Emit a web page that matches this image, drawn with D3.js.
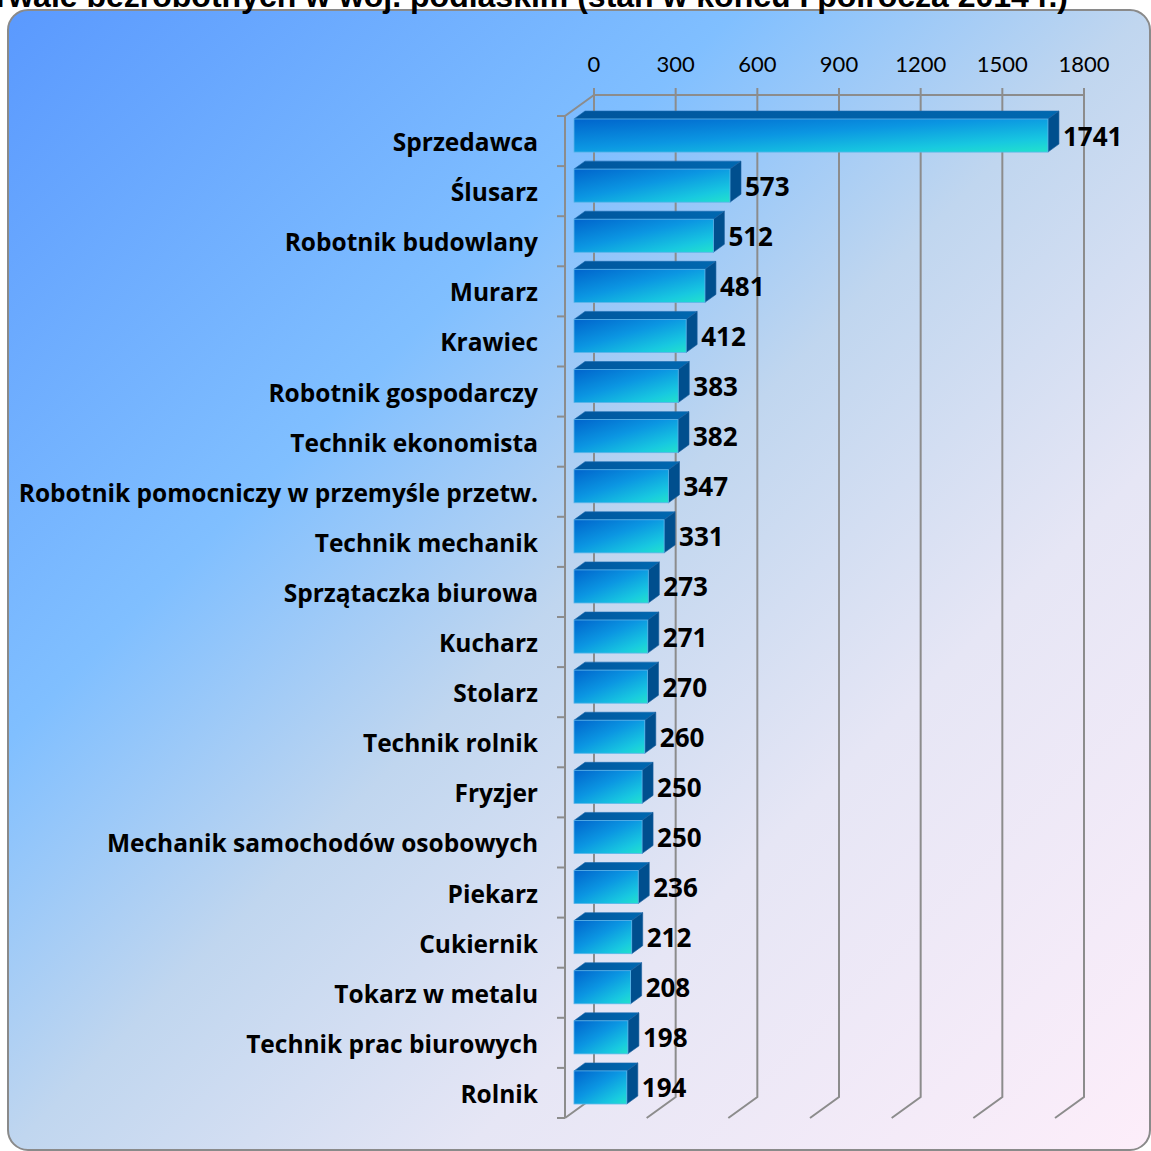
<!DOCTYPE html>
<html>
<head>
<meta charset="utf-8">
<script src="https://cdnjs.cloudflare.com/ajax/libs/d3/7.8.5/d3.min.js"></script>
<style>
  html, body { margin: 0; padding: 0; background: #ffffff; }
  svg { display: block; }
</style>
</head>
<body>
<svg id="chart" width="1151" height="1151"></svg>
<script>
const categories = [
  "Sprzedawca", "Ślusarz", "Robotnik budowlany", "Murarz", "Krawiec",
  "Robotnik gospodarczy", "Technik ekonomista", "Robotnik pomocniczy w przemyśle przetw.",
  "Technik mechanik", "Sprzątaczka biurowa", "Kucharz", "Stolarz", "Technik rolnik",
  "Fryzjer", "Mechanik samochodów osobowych", "Piekarz", "Cukiernik", "Tokarz w metalu",
  "Technik prac biurowych", "Rolnik"
];
const values = [1741, 573, 512, 481, 412, 383, 382, 347, 331, 273, 271, 270, 260, 250, 250, 236, 212, 208, 198, 194];
const tickValues = [0, 300, 600, 900, 1200, 1500, 1800];
const titleText = "długotrwale bezrobotnych w woj. podlaskim (stan w końcu I półrocza 2014 r.)";

const svg = d3.select("#chart");
const defs = svg.append("defs");

// background gradient
const bg = defs.append("linearGradient").attr("id", "bgGrad")
  .attr("gradientUnits", "userSpaceOnUse")
  .attr("x1", 8).attr("y1", 10).attr("x2", 1150).attr("y2", 1150);
[[0, "#5a99fe"], [0.32, "#80bfff"], [0.5, "#c0d6ef"], [0.7, "#e6e6f5"], [1, "#fdeefa"]]
  .forEach(([o, c]) => bg.append("stop").attr("offset", o).attr("stop-color", c));

const fg = defs.append("linearGradient").attr("id", "frontGrad")
  .attr("x1", 0).attr("y1", 0).attr("x2", 1).attr("y2", 1);
[[0, "#0064cc"], [0.45, "#0b96e2"], [0.8, "#18c8e0"], [1, "#22e2cc"]]
  .forEach(([o, c]) => fg.append("stop").attr("offset", o).attr("stop-color", c));

const tg = defs.append("linearGradient").attr("id", "topGrad")
  .attr("x1", 0).attr("y1", 0).attr("x2", 1).attr("y2", 0);
[[0, "#00559c"], [1, "#0068b0"]]
  .forEach(([o, c]) => tg.append("stop").attr("offset", o).attr("stop-color", c));

// panel
svg.append("rect").attr("x", 8).attr("y", 10).attr("width", 1142).attr("height", 1140)
  .attr("rx", 20).attr("ry", 20).attr("fill", "url(#bgGrad)")
  .attr("stroke", "#8a8a8a").attr("stroke-width", 2);

// title (cut off at top, as in the reference)
svg.append("text").attr("x", 1068).attr("y", 7).attr("text-anchor", "end")
  .attr("font-family", "Liberation Sans, Arial, sans-serif").attr("font-weight", "bold")
  .attr("font-size", 32).attr("fill", "#000").text(titleText);

// geometry
const backLeft = 594, backTop = 95, backBottom = 1097;
const depth = { dx: -29, dy: 21 };        // back -> front
const frontLeft = backLeft + depth.dx;     // 565
const frontTop = backTop + depth.dy;       // 116
const frontBottom = backBottom + depth.dy; // 1118

const x = d3.scaleLinear().domain([0, 1800]).range([0, 490]);
const y = d3.scaleBand().domain(categories).range([frontTop, frontBottom])
  .paddingInner(0.34).paddingOuter(0.17);

const gridColor = "#8c8c8c";
const grid = svg.append("g").attr("stroke", gridColor).attr("stroke-width", 2).attr("fill", "none");

tickValues.forEach(t => {
  const bx = backLeft + x(t);
  grid.append("path").attr("d",
    `M${bx},${backTop - 7}L${bx},${backBottom}L${bx + depth.dx},${backBottom + depth.dy}`);
});
grid.append("line").attr("x1", backLeft).attr("x2", backLeft + x(1800))
  .attr("y1", backTop).attr("y2", backTop);
grid.append("path").attr("d",
  `M${backLeft},${backTop}L${frontLeft},${frontTop}L${frontLeft},${frontBottom}`);
const step = y.step();
d3.range(categories.length + 1).forEach(i => {
  const yy = frontTop + i * step;
  grid.append("line").attr("x1", frontLeft - 8).attr("x2", frontLeft).attr("y1", yy).attr("y2", yy);
});

// top axis labels
svg.append("g").selectAll("text").data(tickValues).join("text")
  .attr("x", d => backLeft + x(d)).attr("y", 72)
  .attr("text-anchor", "middle")
  .attr("font-family", "Lato, 'Open Sans', sans-serif").attr("font-size", 22)
  .attr("fill", "#000").text(d => d);

// bars
const f0 = 0.31, f1 = 0.69;
const off0 = { x: -depth.dx * f0, y: -depth.dy * f0 };
const bd = { x: -depth.dx * (f1 - f0), y: -depth.dy * (f1 - f0) };

const bars = svg.append("g").selectAll("g").data(categories.map((c, i) => ({ c, v: values[i] })))
  .join("g");

bars.each(function (d) {
  const g = d3.select(this);
  const x0 = frontLeft + off0.x + x(0);
  const x1 = frontLeft + off0.x + x(d.v);
  const y0 = y(d.c) + off0.y + 1;
  const h = y.bandwidth();
  g.append("path").attr("d",
    `M${x0},${y0}L${x0 + bd.x},${y0 + bd.y}L${x1 + bd.x},${y0 + bd.y}L${x1},${y0}Z`)
    .attr("fill", "url(#topGrad)").attr("stroke", "#1a6ab0").attr("stroke-width", 0.6);
  g.append("path").attr("d",
    `M${x1},${y0}L${x1 + bd.x},${y0 + bd.y}L${x1 + bd.x},${y0 + h + bd.y}L${x1},${y0 + h}Z`)
    .attr("fill", "#004f8e").attr("stroke", "#1a5e9e").attr("stroke-width", 0.6);
  g.append("rect").attr("x", x0).attr("y", y0).attr("width", x1 - x0).attr("height", h)
    .attr("fill", "url(#frontGrad)").attr("stroke", "#5ab4ea").attr("stroke-width", 0.8);
  g.append("text").attr("x", x1 + bd.x + 4).attr("y", y0 + h / 2 + 10)
    .attr("font-family", "'Open Sans', Lato, sans-serif").attr("font-weight", "bold")
    .attr("font-size", 26).attr("fill", "#000").text(d.v);
});

// category labels
svg.append("g").selectAll("text").data(categories).join("text")
  .attr("x", 538).attr("y", d => y(d) + y.bandwidth() / 2 + 10)
  .attr("text-anchor", "end")
  .attr("font-family", "'Open Sans', Lato, sans-serif").attr("font-weight", "bold")
  .attr("font-size", 24.5).attr("fill", "#000").text(d => d);
</script>
</body>
</html>
